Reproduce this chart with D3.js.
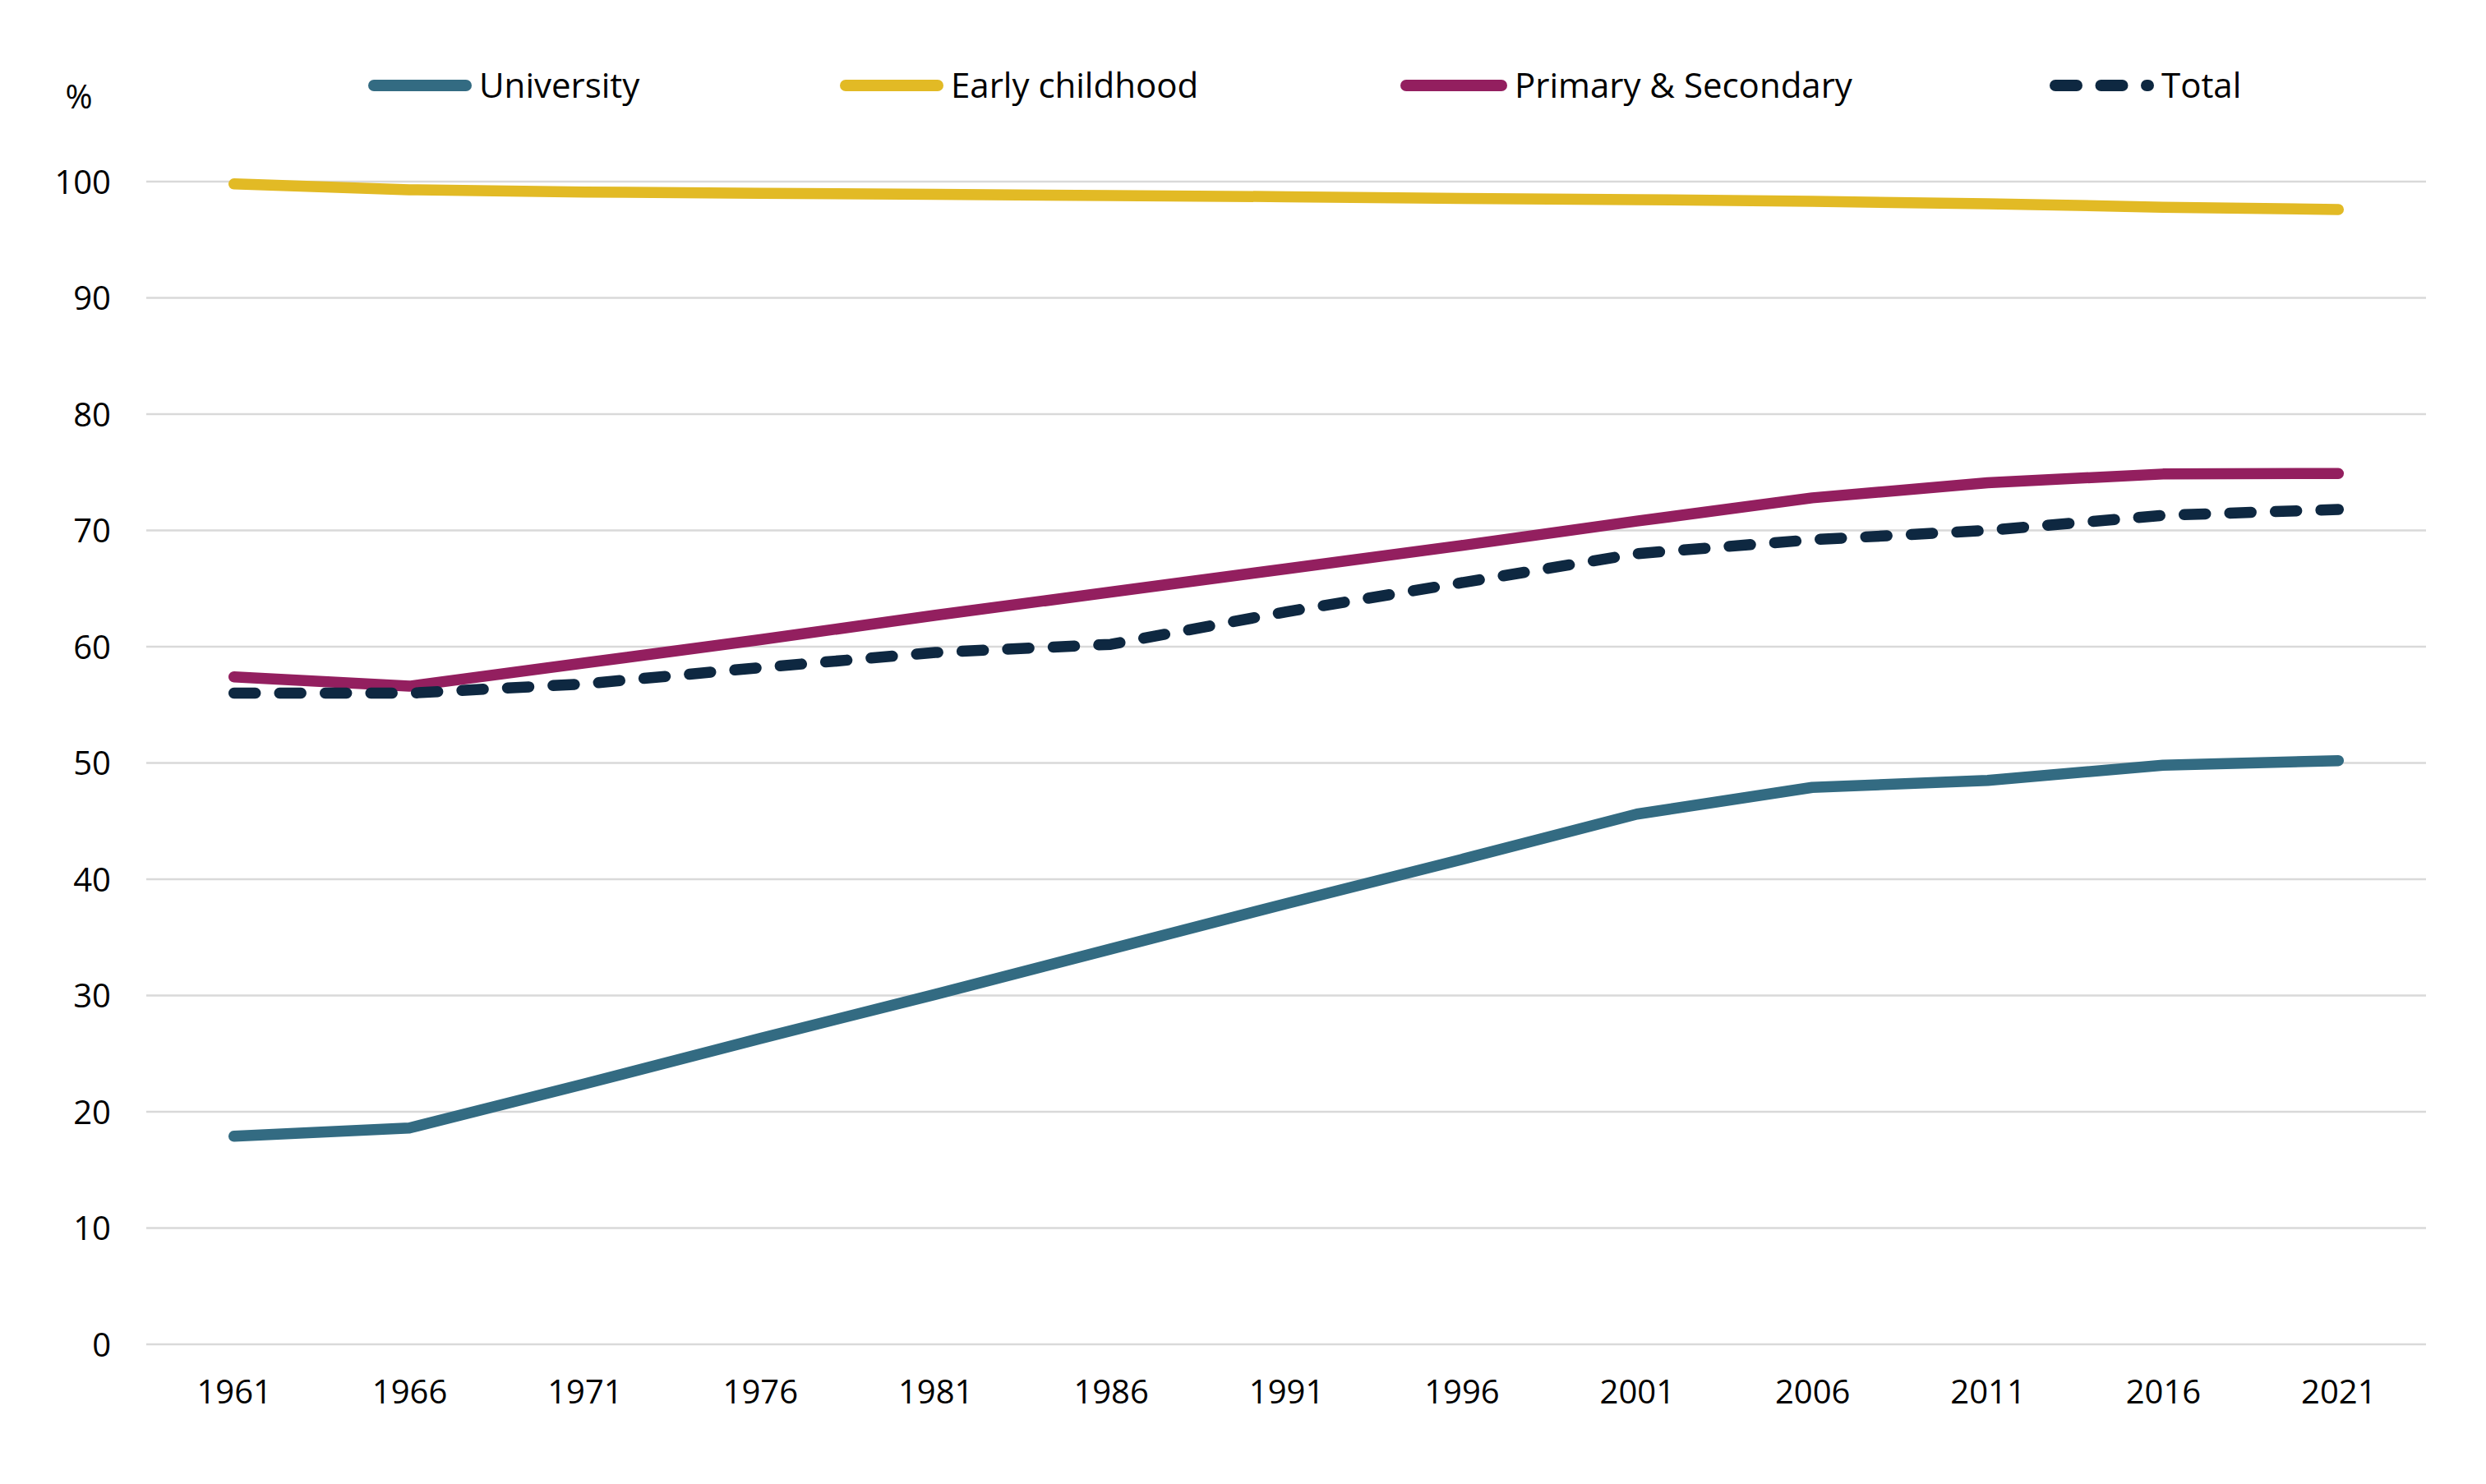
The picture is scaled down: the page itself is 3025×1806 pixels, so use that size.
<!DOCTYPE html>
<html>
<head>
<meta charset="utf-8">
<script src="https://cdn.jsdelivr.net/npm/d3@7"></script>
<style>
  html, body { margin: 0; padding: 0; background: #ffffff; }
  svg { display: block; }
  text { font-family: "Open Sans", "Liberation Sans", sans-serif; fill: #000; }
</style>
</head>
<body>
<svg id="chart" width="3025" height="1806"></svg>
<script>
const years = ["1961","1966","1971","1976","1981","1986","1991","1996","2001","2006","2011","2016","2021"];
const yTicks = [0,10,20,30,40,50,60,70,80,90,100];
const seriesNames = ["University","Early childhood","Primary & Secondary","Total"];
const university = [17.9,18.6,22.4,26.3,30.1,34.0,37.9,41.7,45.6,47.9,48.5,49.8,50.2];
const earlyChildhood = [99.8,99.3,99.1,99.0,98.9,98.8,98.7,98.55,98.45,98.3,98.1,97.8,97.6];
const primarySecondary = [57.4,56.6,58.6,60.6,62.7,64.7,66.7,68.7,70.8,72.8,74.1,74.85,74.9];
const total = [56.0,56.0,56.8,58.2,59.5,60.2,63.0,65.5,68.0,69.2,70.0,71.3,71.8];

const styles = [
  {color:"#336B82", dash:null},
  {color:"#E2BA25", dash:null},
  {color:"#931F5F", dash:null},
  {color:"#0E2841", dash:"26,29.5"}
];
const seriesData = [university, earlyChildhood, primarySecondary, total];

const svg = d3.select("#chart");
const x = d3.scalePoint().domain(years).range([178, 2952]).padding(0.5);
const y = d3.scaleLinear().domain([0,100]).range([1636, 221]);

// gridlines
svg.append("g").selectAll("line").data(yTicks).join("line")
  .attr("x1", 178).attr("x2", 2952)
  .attr("y1", d => y(d)).attr("y2", d => y(d))
  .attr("stroke", "#D9D9D9").attr("stroke-width", 2.5);

// y axis labels
const yAxis = d3.axisLeft(y).tickValues(yTicks).tickSize(0).tickPadding(0).tickFormat(d3.format("d"));
const gy = svg.append("g").attr("transform", "translate(135,0)").call(yAxis);
gy.select(".domain").remove();
gy.selectAll("text").attr("font-size", 40).attr("font-family", "Open Sans, sans-serif").attr("fill", "#000").attr("dy", "0.35em");

// x axis labels
const xAxis = d3.axisBottom(x).tickSize(0).tickPadding(0);
const gx = svg.append("g").attr("transform", "translate(0,1694)").call(xAxis);
gx.select(".domain").remove();
gx.selectAll("text").attr("font-size", 40).attr("font-family", "Open Sans, sans-serif").attr("fill", "#000").attr("dy", "0.35em");

// % label
svg.append("text").attr("x", 96).attr("y", 118).attr("dy", "0.35em")
  .attr("text-anchor", "middle").attr("font-size", 40).text("%");

// lines
const line = d3.line().x((d,i) => x(years[i])).y(d => y(d));
seriesData.forEach((vals, k) => {
  svg.append("path").datum(vals)
    .attr("d", line)
    .attr("fill", "none")
    .attr("stroke", styles[k].color)
    .attr("stroke-width", 13.5)
    .attr("stroke-linecap", "round")
    .attr("stroke-linejoin", "round")
    .attr("stroke-dasharray", styles[k].dash);
});

// legend
const legendX1 = [455, 1029, 1711, 2501];
const legendX2 = [567, 1141, 1827, 2614];
const legendY = 104;
seriesNames.forEach((name, k) => {
  const g = svg.append("g");
  g.append("line")
    .attr("x1", legendX1[k]).attr("x2", legendX2[k])
    .attr("y1", legendY).attr("y2", legendY)
    .attr("stroke", styles[k].color).attr("stroke-width", 14)
    .attr("stroke-linecap", "round")
    .attr("stroke-dasharray", styles[k].dash);
  g.append("text")
    .attr("x", legendX2[k] + 16).attr("y", legendY).attr("dy", "0.35em")
    .attr("font-size", 42).text(name);
});
</script>
</body>
</html>
